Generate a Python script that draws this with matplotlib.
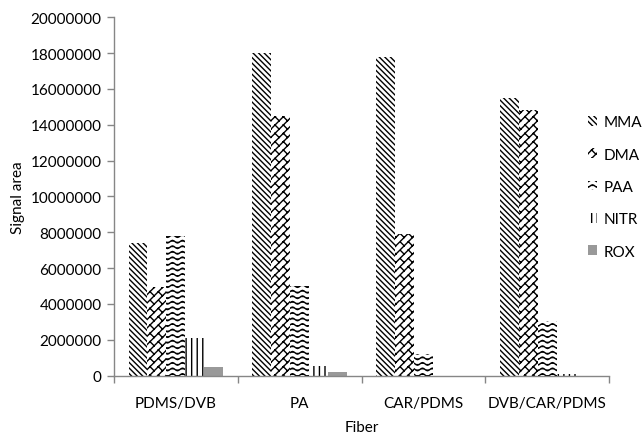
import warnings
import numpy as np
import matplotlib
matplotlib.use('Agg')
import matplotlib.pyplot as plt
from matplotlib import hatch as mhatch
from matplotlib.path import Path
from matplotlib.patches import Patch

warnings.filterwarnings('ignore')

fibers = ['PDMS/DVB', 'PA', 'CAR/PDMS', 'DVB/CAR/PDMS']
mma = [7400000, 18000000, 17800000, 15500000]
dma = [4950000, 14500000, 7900000, 14800000]
paa = [7800000, 5000000, 1200000, 3050000]
nitr = [2100000, 520000, 0, 80000]
rox = [500000, 200000, 0, 0]
series_names = ['MMA', 'DMA', 'PAA', 'NITR', 'ROX']


# extra hatch patterns: '~' = wavy lines, 'z' = diagonal brick
class WaveHatch(mhatch.HatchPatternBase):
    def __init__(self, hatch, density):
        self.num_lines = int(hatch.count('~') * density)
        self.n_pts = 81
        self.num_vertices = self.num_lines * self.n_pts

    def set_vertices_and_codes(self, vertices, codes):
        x = np.linspace(0, 1, self.n_pts)
        for i in range(self.num_lines):
            y0 = (i + 0.5) / self.num_lines
            s = slice(i * self.n_pts, (i + 1) * self.n_pts)
            vertices[s, 0] = x
            vertices[s, 1] = y0 + 0.013 * np.sin(2 * np.pi * 10 * x)
            codes[s] = Path.LINETO
            codes[i * self.n_pts] = Path.MOVETO


class BrickHatch(mhatch.HatchPatternBase):
    segs = [((0, 0), (1, 1)), ((0, .5), (.5, 1)), ((.5, 0), (1, .5)),
            ((.25, .25), (0, .5)), ((.75, .75), (.5, 1)),
            ((.75, .25), (.5, .5)), ((.25, .75), (0, 1))]

    def __init__(self, hatch, density):
        self.cells = int(hatch.count('z') * density)
        self.num_vertices = self.cells ** 2 * len(self.segs) * 2

    def set_vertices_and_codes(self, vertices, codes):
        c = 1.0 / self.cells
        k = 0
        for i in range(self.cells):
            for j in range(self.cells):
                for (x0, y0), (x1, y1) in self.segs:
                    vertices[k] = ((i + x0) * c, (j + y0) * c)
                    vertices[k + 1] = ((i + x1) * c, (j + y1) * c)
                    codes[k] = Path.MOVETO
                    codes[k + 1] = Path.LINETO
                    k += 2


mhatch._hatch_types.append(WaveHatch)
mhatch._hatch_types.append(BrickHatch)

plt.rcParams['font.family'] = ['Lato', 'DejaVu Sans']
plt.rcParams['hatch.linewidth'] = 1.0

axcol = '#868686'
fs = 11

fig = plt.figure(figsize=(6.42, 4.35), dpi=100)
ax = fig.add_axes([114 / 642, 58.5 / 435, 495 / 642, 358.2 / 435])

x = np.arange(len(fibers))
w = 0.153
styles = [
    dict(hatch='\\\\\\\\\\\\', color='white', edgecolor='black'),
    dict(hatch='z', color='white', edgecolor='black'),
    dict(hatch='~~~', color='white', edgecolor='black'),
    dict(hatch='|||', color='white', edgecolor='black'),
    dict(hatch=None, color='#999999', edgecolor='#999999'),
]
data = [mma, dma, paa, nitr, rox]
handles = []
for i, (vals, st) in enumerate(zip(data, styles)):
    ax.bar(x + (i - 2) * w, vals, w, linewidth=0, **st)
    handles.append(Patch(facecolor=st['color'], edgecolor=st['edgecolor'],
                         hatch=st['hatch'], linewidth=0))

ax.set_xlim(-0.5, 3.5)
ax.set_ylim(0, 20000000)
ax.set_yticks(np.arange(0, 20000001, 2000000))
ax.set_yticklabels([str(v) for v in range(0, 20000001, 2000000)])
ax.set_xticks(x)
ax.set_xticklabels(fibers)
ax.set_xticks(np.arange(-0.5, 3.6, 1), minor=True)
ax.tick_params(axis='x', which='major', length=0, pad=15, labelsize=fs)
ax.tick_params(axis='x', which='minor', length=5, width=1, color=axcol)
ax.tick_params(axis='y', length=5, width=1, color=axcol, pad=4, labelsize=fs)

for s in ['top', 'right']:
    ax.spines[s].set_visible(False)
for s in ['left', 'bottom']:
    ax.spines[s].set_color(axcol)
    ax.spines[s].set_linewidth(1)

ax.set_xlabel('Fiber', fontsize=fs, labelpad=7)
ax.set_ylabel('Signal area', fontsize=fs, labelpad=4)

fig.legend(handles, series_names, loc='center left',
           bbox_to_anchor=(588 / 642, 1 - 188 / 435), frameon=False,
           fontsize=fs, handlelength=0.6, handleheight=0.6,
           handletextpad=0.4, labelspacing=1.2, borderpad=0, borderaxespad=0)

fig.savefig('out.png', dpi=100)
